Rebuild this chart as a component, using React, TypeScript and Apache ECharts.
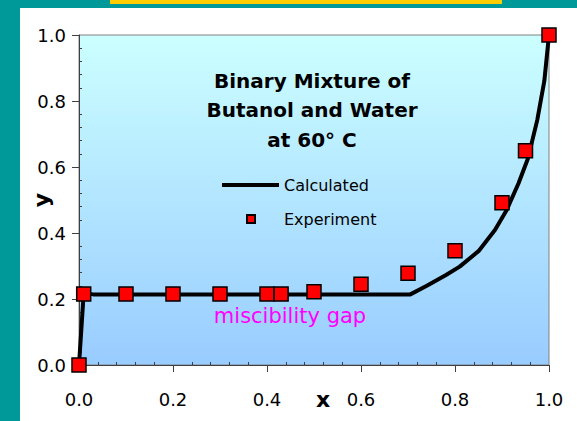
import React, { useEffect, useRef } from "react";
import * as echarts from "echarts";

// Liquid mole fraction of butanol (x) vs. vapour mole fraction (y)
const calcX = [0, 0.01, 0.03, 0.1, 0.2, 0.3, 0.4, 0.5, 0.6, 0.705, 0.74, 0.78, 0.81, 0.85, 0.885, 0.91, 0.935, 0.955, 0.975, 0.99, 1.0];
const calcY = [0, 0.218, 0.214, 0.214, 0.214, 0.214, 0.214, 0.214, 0.214, 0.214, 0.24, 0.272, 0.298, 0.345, 0.409, 0.47, 0.55, 0.625, 0.742, 0.86, 1.0];

const expX = [0, 0.01, 0.1, 0.2, 0.3, 0.4, 0.43, 0.5, 0.6, 0.7, 0.8, 0.9, 0.95, 1.0];
const expY = [0, 0.215, 0.215, 0.215, 0.215, 0.215, 0.215, 0.222, 0.245, 0.278, 0.346, 0.492, 0.649, 1.0];

const titleLines = ["Binary Mixture of", "Butanol and Water", "at 60\u00b0 C"];
const gapLabel = "miscibility gap";

const FONT = "DejaVu Sans";

export default function App() {
  const ref = useRef<HTMLDivElement>(null);

  useEffect(() => {
    if (!ref.current) return;
    const chart = echarts.init(ref.current, null, { renderer: "svg" });

    const axisColor = "#404040";
    const labelStyle = { color: "#000", fontFamily: FONT, fontSize: 18 };

    const mainX = {
      type: "value",
      position: "bottom",
      min: 0,
      max: 1,
      interval: 0.2,
      name: "x",
      nameLocation: "middle",
      nameGap: 23,
      nameMoveOverlap: false,
      nameTextStyle: { color: "#000", fontFamily: FONT, fontSize: 22, fontWeight: "bold", padding: [0, 0, 0, 18] },
      axisLine: { show: true, lineStyle: { color: axisColor, width: 1 } },
      axisTick: { show: true, length: 7, lineStyle: { color: axisColor } },
      minorTick: { show: false },
      splitLine: { show: false },
      axisLabel: { ...labelStyle, margin: 25, formatter: (v: number) => v.toFixed(1) },
    };
    const minorX = {
      type: "value",
      position: "bottom",
      min: 0,
      max: 1,
      interval: 0.2,
      axisLine: { show: false },
      axisTick: { show: false, inside: true },
      minorTick: { show: true, splitNumber: 5, length: 3, lineStyle: { color: axisColor } },
      splitLine: { show: false },
      axisLabel: { show: false },
    };
    const mainY = {
      type: "value",
      position: "left",
      min: 0,
      max: 1,
      interval: 0.2,
      name: "y",
      nameLocation: "middle",
      nameRotate: 90,
      nameGap: 27,
      nameMoveOverlap: false,
      nameTextStyle: { color: "#000", fontFamily: FONT, fontSize: 22, fontWeight: "bold" },
      axisLine: { show: true, lineStyle: { color: axisColor, width: 1 } },
      axisTick: { show: true, length: 7, lineStyle: { color: axisColor } },
      minorTick: { show: false },
      splitLine: { show: false },
      axisLabel: { ...labelStyle, margin: 13, formatter: (v: number) => v.toFixed(1) },
    };
    const minorY = {
      type: "value",
      position: "left",
      min: 0,
      max: 1,
      interval: 0.2,
      axisLine: { show: false },
      axisTick: { show: false, inside: true },
      minorTick: { show: true, splitNumber: 5, length: 3, lineStyle: { color: axisColor } },
      splitLine: { show: false },
      axisLabel: { show: false },
    };

    chart.setOption({
      animation: false,
      backgroundColor: "transparent",
      grid: {
        left: 79,
        top: 35,
        width: 470,
        height: 330,
        outerBoundsMode: "none",
        containLabel: false,
        show: true,
        borderColor: "#808080",
        borderWidth: 1,
        backgroundColor: {
          type: "linear",
          x: 0,
          y: 0,
          x2: 0,
          y2: 1,
          colorStops: [
            { offset: 0, color: "#CCFFFF" },
            { offset: 1, color: "#99CCFF" },
          ],
        },
      },
      xAxis: [mainX, minorX],
      yAxis: [mainY, minorY],
      legend: [
        {
          data: [{ name: "Calculated", icon: "rect" }],
          left: 222,
          top: 177,
          padding: 0,
          itemWidth: 57,
          itemHeight: 4,
          itemGap: 0,
          selectedMode: false,
          textStyle: { color: "#000", fontFamily: FONT, fontSize: 16, padding: [0, 0, 0, 0] },
        },
        {
          data: ["Experiment"],
          left: 246,
          top: 211,
          padding: 0,
          itemWidth: 8,
          itemHeight: 8,
          selectedMode: false,
          textStyle: { color: "#000", fontFamily: FONT, fontSize: 16, padding: [0, 0, 0, 24] },
        },
      ],
      graphic: [
        {
          type: "text",
          x: 312,
          y: 66,
          silent: true,
          style: {
            text: titleLines.join("\n"),
            fill: "#000",
            font: `bold 20px "${FONT}"`,
            lineHeight: 29.5,
            textAlign: "center",
            textVerticalAlign: "top",
          },
        },
        {
          type: "text",
          x: 290,
          y: 316,
          silent: true,
          style: {
            text: gapLabel,
            fill: "#FF00FF",
            font: `21px "${FONT}"`,
            textAlign: "center",
            textVerticalAlign: "middle",
          },
        },
      ],
      series: [
        {
          name: "Calculated",
          type: "line",
          data: calcX.map((x, i) => [x, calcY[i]]),
          showSymbol: false,
          symbol: "none",
          clip: false,
          lineStyle: { color: "#000", width: 4 },
          itemStyle: { color: "#000" },
          z: 2,
        },
        {
          name: "Experiment",
          type: "scatter",
          data: expX.map((x, i) => [x, expY[i]]),
          symbol: "rect",
          symbolSize: 14,
          clip: false,
          itemStyle: { color: "#FF0000", borderColor: "#000", borderWidth: 1.5, opacity: 1 },
          z: 3,
        },
      ],
    });

    return () => chart.dispose();
  }, []);

  return (
    <div style={{ position: "fixed", left: 0, top: 0, width: 577, height: 421, background: "#009999", overflow: "hidden" }}>
      <div style={{ position: "absolute", left: 110, top: 0, width: 392, height: 4, background: "#FFCC00" }} />
      <div style={{ position: "absolute", left: 20, top: 8, width: 557, height: 413, background: "#FFFFFF" }} />
      <div ref={ref} style={{ position: "absolute", left: 0, top: 0, width: 577, height: 421 }} />
    </div>
  );
}
